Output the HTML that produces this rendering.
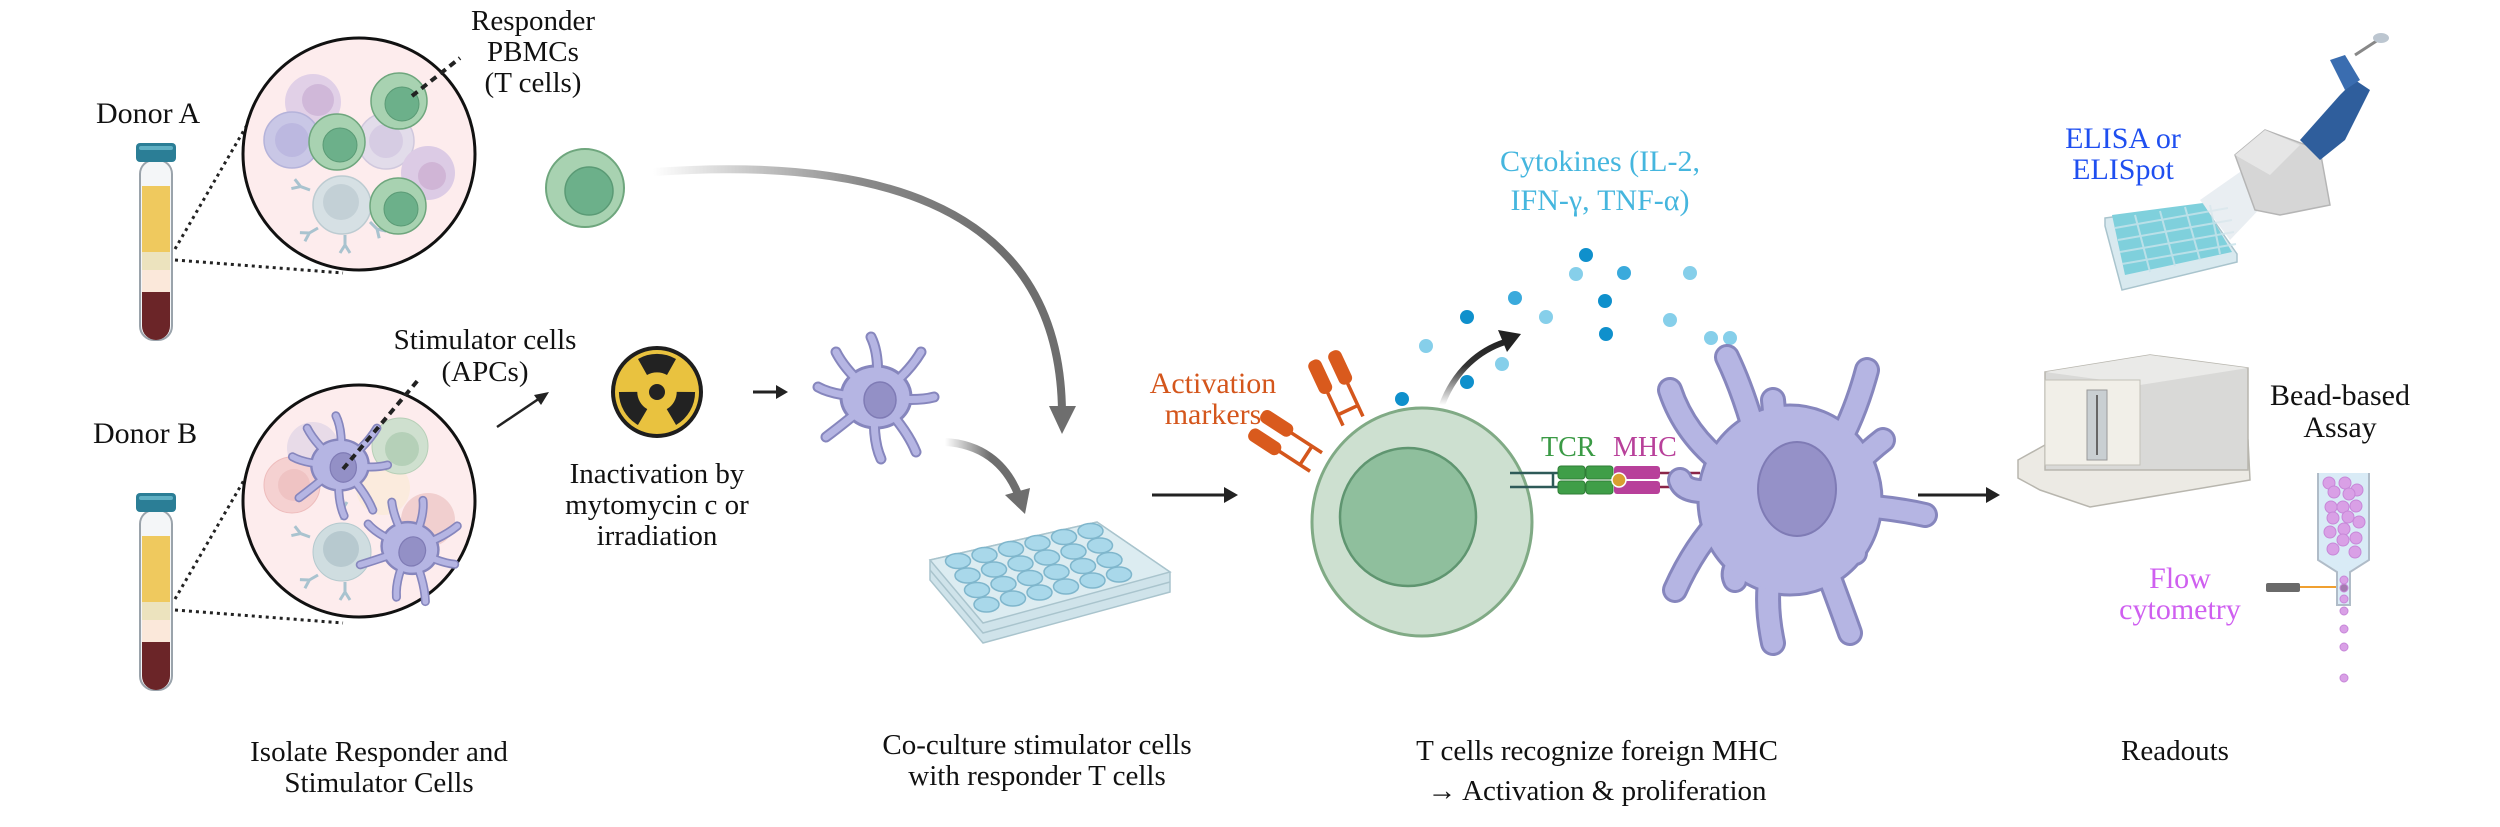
<!DOCTYPE html>
<html><head><meta charset="utf-8">
<style>
html,body{margin:0;padding:0;background:#fff;}
svg{display:block;font-family:"Liberation Serif","Times New Roman",serif;}
svg text{font-family:"Liberation Serif","Times New Roman",serif;}
</style></head>
<body>
<svg width="2500" height="827" viewBox="0 0 2500 827" xmlns="http://www.w3.org/2000/svg" font-family="Liberation Serif, Times New Roman, serif">
<defs>
  <linearGradient id="g1" x1="653" y1="0" x2="1000" y2="0" gradientUnits="userSpaceOnUse">
    <stop offset="0" stop-color="#fff"/><stop offset="0.6" stop-color="#8a8a8a"/><stop offset="1" stop-color="#6e6e6e"/>
  </linearGradient>
  <linearGradient id="g2" x1="945" y1="0" x2="990" y2="0" gradientUnits="userSpaceOnUse">
    <stop offset="0" stop-color="#fff"/><stop offset="1" stop-color="#6e6e6e"/>
  </linearGradient>
  <linearGradient id="g3" x1="0" y1="405" x2="0" y2="340" gradientUnits="userSpaceOnUse">
    <stop offset="0" stop-color="#fff"/><stop offset="0.6" stop-color="#333"/><stop offset="1" stop-color="#222"/>
  </linearGradient>
  <g id="dc">
    <g fill="none" stroke="#8686bd" stroke-linecap="round" stroke-width="11">
      <path d="M0,0 Q5,-40 -5,-60"/><path d="M0,0 Q30,-20 45,-45"/><path d="M0,0 Q40,5 58,0"/>
      <path d="M0,0 Q30,30 40,55"/><path d="M0,0 Q-5,40 5,62"/><path d="M0,0 Q-30,25 -50,40"/>
      <path d="M0,0 Q-40,0 -58,-10"/><path d="M0,0 Q-30,-25 -40,-45"/>
    </g>
    <ellipse cx="0" cy="0" rx="35" ry="31" fill="#b5b5e3" stroke="#8686bd" stroke-width="3"/>
    <g fill="none" stroke="#b5b5e3" stroke-linecap="round" stroke-width="7">
      <path d="M0,0 Q5,-40 -5,-60"/><path d="M0,0 Q30,-20 45,-45"/><path d="M0,0 Q40,5 58,0"/>
      <path d="M0,0 Q30,30 40,55"/><path d="M0,0 Q-5,40 5,62"/><path d="M0,0 Q-30,25 -50,40"/>
      <path d="M0,0 Q-40,0 -58,-10"/><path d="M0,0 Q-30,-25 -40,-45"/>
    </g>
    <ellipse cx="0" cy="0" rx="33" ry="29" fill="#b5b5e3"/>
    <ellipse cx="4" cy="3" rx="16" ry="18" fill="#9390c6" stroke="#7f7bb5" stroke-width="1.5"/>
  </g>
  <g id="tube">
    <rect x="140" y="160" width="32" height="180" rx="14" fill="#f4f6f8" stroke="#9aa3ab" stroke-width="2"/>
    <rect x="142" y="186" width="28" height="66" fill="#efc95e"/>
    <rect x="142" y="252" width="28" height="18" fill="#ece3be"/>
    <rect x="142" y="270" width="28" height="22" fill="#fbe8da"/>
    <path d="M142,292 H170 V326 A14,14 0 0 1 142,326 Z" fill="#6b2528"/>
    <rect x="136" y="143" width="40" height="19" rx="4" fill="#2b7e96"/>
    <rect x="139" y="146" width="34" height="4" rx="2" fill="#5fb0c4"/>
  </g>
  <g id="ab" fill="none" stroke="#a9c3cf" stroke-width="3">
    <path d="M0,0 V-10 M0,-10 L-5,-18 M0,-10 L5,-18"/>
  </g>
  <g id="mk">
    <g stroke="#d4561c" stroke-width="3.5" fill="none"><path d="M-11,-38 V0 M11,-38 V0 M-11,-12 H11"/></g>
    <rect x="-18" y="-72" width="14" height="36" rx="6" fill="#d95a1d"/>
    <rect x="4" y="-72" width="14" height="36" rx="6" fill="#d95a1d"/>
  </g>
</defs>

<g font-family="Liberation Serif, Times New Roman, serif">
<!-- Donor A -->
<text x="96" y="123" font-size="30" fill="#111">Donor A</text>
<use href="#tube"/>
<path d="M175,249 L247,125 M175,260 L343,273" stroke="#222" stroke-width="3" stroke-dasharray="3,4" fill="none"/>
<circle cx="359" cy="154" r="116" fill="#fdeced" stroke="#111" stroke-width="3"/>
<g>
  <circle cx="313" cy="102" r="28" fill="#dccbe5" opacity="0.85"/><circle cx="318" cy="100" r="16" fill="#d0b8d9"/>
  <circle cx="292" cy="140" r="28" fill="#c9c7e6" stroke="#b5b3da" stroke-width="1.5"/><circle cx="292" cy="140" r="17" fill="#bcb8e0"/>
  <circle cx="386" cy="141" r="28" fill="#e2dcea" stroke="#d0c8dd" stroke-width="1.5"/><circle cx="386" cy="141" r="17" fill="#d6cce3"/>
  <circle cx="428" cy="173" r="27" fill="#dccbe5"/><circle cx="432" cy="176" r="14" fill="#d0b5d6"/>
  <circle cx="342" cy="205" r="29" fill="#d6e0e4" stroke="#bccbd1" stroke-width="1.5"/><circle cx="341" cy="202" r="18" fill="#c3d0d6"/>
  <use href="#ab" transform="translate(310,190) rotate(-70)"/><use href="#ab" transform="translate(318,228) rotate(-120)"/>
  <use href="#ab" transform="translate(345,235) rotate(180)"/><use href="#ab" transform="translate(370,222) rotate(135)"/>
  <circle cx="337" cy="142" r="28" fill="#a8d2b1" stroke="#6ea67d" stroke-width="1.5"/><circle cx="340" cy="145" r="17" fill="#6cb08a" stroke="#5a9a75"/>
  <circle cx="399" cy="101" r="28" fill="#a8d2b1" stroke="#6ea67d" stroke-width="1.5"/><circle cx="402" cy="104" r="17" fill="#6cb08a" stroke="#5a9a75"/>
  <circle cx="398" cy="206" r="28" fill="#a8d2b1" stroke="#6ea67d" stroke-width="1.5"/><circle cx="401" cy="209" r="17" fill="#6cb08a" stroke="#5a9a75"/>
</g>
<path d="M412,96 L460,58" stroke="#222" stroke-width="4" stroke-dasharray="7,5"/>
<text font-size="29" fill="#111" text-anchor="middle"><tspan x="533" y="30">Responder</tspan><tspan x="533" y="61">PBMCs</tspan><tspan x="533" y="92">(T cells)</tspan></text>
<circle cx="585" cy="188" r="39" fill="#a8d2b1" stroke="#6ea67d" stroke-width="2"/><circle cx="589" cy="191" r="24" fill="#6cb08a" stroke="#5a9a75" stroke-width="1.5"/>

<!-- Donor B -->
<text x="93" y="443" font-size="30" fill="#111">Donor B</text>
<use href="#tube" transform="translate(0,350)"/>
<path d="M175,599 L247,475 M175,610 L343,623" stroke="#222" stroke-width="3" stroke-dasharray="3,4" fill="none"/>
<circle cx="359" cy="501" r="116" fill="#fdeced" stroke="#111" stroke-width="3"/>
<g>
  <circle cx="313" cy="448" r="26" fill="#e8dbe8"/>
  <circle cx="292" cy="485" r="28" fill="#f5d1d1" stroke="#eebcbc"/><circle cx="294" cy="485" r="16" fill="#efc3c3"/>
  <circle cx="383" cy="488" r="27" fill="#fbebdd"/>
  <circle cx="428" cy="520" r="27" fill="#f1cfcf"/>
  <circle cx="400" cy="446" r="28" fill="#cfe0cf" stroke="#b6cfb7"/><circle cx="402" cy="449" r="17" fill="#b5d0b8"/>
  <circle cx="342" cy="552" r="29" fill="#cfdde0" stroke="#b4c9ce"/><circle cx="341" cy="549" r="18" fill="#b7c9cf"/>
  <use href="#ab" transform="translate(310,537) rotate(-70)"/><use href="#ab" transform="translate(318,575) rotate(-120)"/>
  <use href="#ab" transform="translate(345,582) rotate(180)"/><use href="#ab" transform="translate(342,520) rotate(0)"/>
  <use href="#dc" transform="translate(340,465) scale(0.82)"/>
  <use href="#dc" transform="translate(410,548) scale(0.82) rotate(20)"/>
</g>
<path d="M343,469 L419,379" stroke="#222" stroke-width="4" stroke-dasharray="7,5"/>
<text font-size="29" fill="#111" text-anchor="middle"><tspan x="485" y="349">Stimulator cells</tspan><tspan x="485" y="381">(APCs)</tspan></text>
<path d="M497,427 L540,398" stroke="#222" stroke-width="2.5"/><path d="M549,392 L534,395 L541,405 Z" fill="#222"/>

<!-- radiation -->
<circle cx="657" cy="392" r="44" fill="#e9c23f" stroke="#1e1e1e" stroke-width="4"/>
<g fill="#222" transform="translate(657,392)">
  <path d="M-10,-17 L-19,-33 A38,38 0 0 1 19,-33 L10,-17 A20,20 0 0 0 -10,-17 Z"/>
  <path d="M-10,-17 L-19,-33 A38,38 0 0 1 19,-33 L10,-17 A20,20 0 0 0 -10,-17 Z" transform="rotate(120)"/>
  <path d="M-10,-17 L-19,-33 A38,38 0 0 1 19,-33 L10,-17 A20,20 0 0 0 -10,-17 Z" transform="rotate(240)"/>
  <circle r="8"/>
</g>
<text font-size="29" fill="#111" text-anchor="middle"><tspan x="657" y="483">Inactivation by</tspan><tspan x="657" y="514">mytomycin c or</tspan><tspan x="657" y="545">irradiation</tspan></text>
<path d="M753,392 H778" stroke="#222" stroke-width="3"/><path d="M788,392 L776,385 V399 Z" fill="#222"/>
<use href="#dc" transform="translate(876,397)"/>

<!-- grey arrows -->
<path d="M653,172 C850,158 1060,190 1062,412" fill="none" stroke="url(#g1)" stroke-width="8"/>
<path d="M1049,406 L1076,406 L1062,434 Z" fill="#6e6e6e"/>
<path d="M945,442 C980,444 1005,462 1018,494" fill="none" stroke="url(#g2)" stroke-width="8"/>
<path d="M1005,495 L1030,488 L1025,514 Z" fill="#6e6e6e"/>

<!-- plate -->
<path d="M930,560 L1097,522 L1170,572 L1170,592 L983,643 L930,580 Z" fill="#cfe3ea" stroke="#a9c4cd" stroke-width="1.5"/>
<path d="M930,560 L1097,522 L1170,572 L983,623 Z" fill="#dcecf1" stroke="#a9c4cd" stroke-width="1.5"/>
<path d="M930,570 L983,633 L1170,582" fill="none" stroke="#a9c4cd" stroke-width="1.5"/>
<g fill="#a9d8ea" stroke="#7fb6cc" stroke-width="1.5">
<ellipse cx="958" cy="561" rx="12.5" ry="7.5"/><ellipse cx="984.5" cy="555" rx="12.5" ry="7.5"/><ellipse cx="1011" cy="549" rx="12.5" ry="7.5"/><ellipse cx="1037.5" cy="543" rx="12.5" ry="7.5"/><ellipse cx="1064" cy="537" rx="12.5" ry="7.5"/><ellipse cx="1090.5" cy="531" rx="12.5" ry="7.5"/>
<ellipse cx="967.5" cy="575.5" rx="12.5" ry="7.5"/><ellipse cx="994" cy="569.5" rx="12.5" ry="7.5"/><ellipse cx="1020.5" cy="563.5" rx="12.5" ry="7.5"/><ellipse cx="1047" cy="557.5" rx="12.5" ry="7.5"/><ellipse cx="1073.5" cy="551.5" rx="12.5" ry="7.5"/><ellipse cx="1100" cy="545.5" rx="12.5" ry="7.5"/>
<ellipse cx="977" cy="590" rx="12.5" ry="7.5"/><ellipse cx="1003.5" cy="584" rx="12.5" ry="7.5"/><ellipse cx="1030" cy="578" rx="12.5" ry="7.5"/><ellipse cx="1056.5" cy="572" rx="12.5" ry="7.5"/><ellipse cx="1083" cy="566" rx="12.5" ry="7.5"/><ellipse cx="1109.5" cy="560" rx="12.5" ry="7.5"/>
<ellipse cx="986.5" cy="604.5" rx="12.5" ry="7.5"/><ellipse cx="1013" cy="598.5" rx="12.5" ry="7.5"/><ellipse cx="1039.5" cy="592.5" rx="12.5" ry="7.5"/><ellipse cx="1066" cy="586.5" rx="12.5" ry="7.5"/><ellipse cx="1092.5" cy="580.5" rx="12.5" ry="7.5"/><ellipse cx="1119" cy="574.5" rx="12.5" ry="7.5"/>
</g>

<path d="M1152,495 H1226" stroke="#222" stroke-width="3"/><path d="M1238,495 L1224,487 V503 Z" fill="#222"/>

<!-- Activation -->
<text font-size="30" fill="#d4561c" text-anchor="middle"><tspan x="1213" y="393">Activation</tspan><tspan x="1213" y="424">markers</tspan></text>
<use href="#mk" transform="translate(1353,421) rotate(-25)"/>
<use href="#mk" transform="translate(1316,462) rotate(-57)"/>

<!-- cytokines -->
<text font-size="30" fill="#45b6de" text-anchor="middle"><tspan x="1600" y="171">Cytokines (IL-2,</tspan><tspan x="1600" y="210">IFN-γ, TNF-α)</tspan></text>
<g fill="#0f90cc"><circle cx="1402" cy="399" r="7"/><circle cx="1467" cy="317" r="7"/><circle cx="1467" cy="382" r="7"/><circle cx="1586" cy="255" r="7"/><circle cx="1606" cy="334" r="7"/><circle cx="1624" cy="273" r="7" fill="#3aaadc"/><circle cx="1515" cy="298" r="7" fill="#3aaadc"/><circle cx="1605" cy="301" r="7"/></g>
<g fill="#86cfea"><circle cx="1426" cy="346" r="7"/><circle cx="1502" cy="364" r="7"/><circle cx="1546" cy="317" r="7"/><circle cx="1576" cy="274" r="7"/><circle cx="1690" cy="273" r="7"/><circle cx="1670" cy="320" r="7"/><circle cx="1711" cy="338" r="7"/><circle cx="1730" cy="338" r="7"/></g>

<!-- T cell -->
<ellipse cx="1422" cy="522" rx="110" ry="114" fill="#cde0d0" stroke="#80aa85" stroke-width="3"/>
<ellipse cx="1408" cy="517" rx="68" ry="69" fill="#8fbf9d" stroke="#5f9570" stroke-width="2.5"/>
<path d="M1442,405 C1455,370 1480,350 1505,342" fill="none" stroke="url(#g3)" stroke-width="6"/>
<path d="M1521,334 L1498,330 L1507,352 Z" fill="#222"/>

<!-- TCR MHC -->
<text x="1541" y="456" font-size="28" fill="#3a9a45">TCR</text>
<text x="1613" y="456" font-size="28" fill="#b8409a">MHC</text>
<path d="M1510,473 H1558 M1510,487 H1558 M1553,473 V487" stroke="#2e5a58" stroke-width="2.5" fill="none"/>
<g fill="#3f9e48" stroke="#2f7e36" stroke-width="1"><rect x="1558" y="466" width="27" height="13" rx="3"/><rect x="1586" y="466" width="27" height="13" rx="3"/><rect x="1558" y="481" width="27" height="13" rx="3"/><rect x="1586" y="481" width="27" height="13" rx="3"/></g>
<g fill="#b8409a"><rect x="1614" y="466" width="46" height="13" rx="3"/><rect x="1614" y="481" width="46" height="13" rx="3"/></g>
<circle cx="1619" cy="480" r="7" fill="#d8a030" stroke="#fff" stroke-width="1.5"/>
<path d="M1660,473 H1700 M1660,487 H1700" stroke="#8a2548" stroke-width="2.5"/>

<!-- big DC -->
<g transform="translate(1795,495)">
  <g fill="none" stroke="#8686bd" stroke-linecap="round" stroke-width="26">
    <path d="M-30,-20 Q-45,-90 -68,-138"/><path d="M-15,-40 Q-20,-70 -22,-95"/><path d="M40,-45 Q60,-80 72,-125"/>
    <path d="M60,-30 Q75,-45 88,-55"/><path d="M50,10 Q95,12 130,20"/><path d="M45,50 Q55,60 60,58"/>
    <path d="M30,70 Q45,110 55,138"/><path d="M-25,80 Q-30,110 -22,148"/><path d="M-50,60 Q-65,75 -60,85"/>
    <path d="M-70,20 Q-100,50 -120,95"/><path d="M-75,-5 Q-110,0 -115,-15"/><path d="M-70,-30 Q-110,-60 -125,-105"/>
  </g>
  <ellipse cx="-5" cy="5" rx="92" ry="95" fill="#b5b5e3" stroke="#8686bd" stroke-width="3"/>
  <g fill="none" stroke="#b5b5e3" stroke-linecap="round" stroke-width="20">
    <path d="M-30,-20 Q-45,-90 -68,-138"/><path d="M-15,-40 Q-20,-70 -22,-95"/><path d="M40,-45 Q60,-80 72,-125"/>
    <path d="M60,-30 Q75,-45 88,-55"/><path d="M50,10 Q95,12 130,20"/><path d="M45,50 Q55,60 60,58"/>
    <path d="M30,70 Q45,110 55,138"/><path d="M-25,80 Q-30,110 -22,148"/><path d="M-50,60 Q-65,75 -60,85"/>
    <path d="M-70,20 Q-100,50 -120,95"/><path d="M-75,-5 Q-110,0 -115,-15"/><path d="M-70,-30 Q-110,-60 -125,-105"/>
  </g>
  <ellipse cx="-5" cy="5" rx="89" ry="92" fill="#b5b5e3"/>
  <ellipse cx="2" cy="-6" rx="39" ry="47" fill="#9591c8" stroke="#7f7bb5" stroke-width="2"/>
</g>

<path d="M1918,495 H1988" stroke="#222" stroke-width="3"/><path d="M2000,495 L1986,487 V503 Z" fill="#222"/>

<!-- ELISA -->
<text font-size="30" fill="#1f4ff0" text-anchor="middle"><tspan x="2123" y="148">ELISA or</tspan><tspan x="2123" y="179">ELISpot</tspan></text>
<path d="M2105,218 L2203,205 L2237,254 L2237,262 L2122,290 L2105,226 Z" fill="#d8e9ef" stroke="#a9c4cd" stroke-width="1.5"/>
<path d="M2112,215 L2203,203 L2232,252 L2125,275 Z" fill="#7fd0dc"/>
<g stroke="#c9e4ec" stroke-width="2" opacity="0.8"><path d="M2115,228 L2228,208 M2118,240 L2232,220 M2120,252 L2234,232 M2122,264 L2236,244 M2135,215 L2150,272 M2160,211 L2175,266 M2185,207 L2200,260 M2210,205 L2220,254"/></g>
<path d="M2200,200 L2240,172 L2268,200 L2230,240 Z" fill="#dfe7ec" opacity="0.7"/>
<path d="M2235,155 L2265,130 L2320,150 L2330,205 L2280,215 L2255,210 Z" fill="#d6d6d6" stroke="#b5b5b5" stroke-width="1.5"/>
<path d="M2235,155 L2265,130 L2300,145 L2270,175 Z" fill="#e6e6e6"/>
<path d="M2300,140 L2340,95 L2355,80 L2370,90 L2345,140 L2320,160 Z" fill="#2f5e9c"/>
<path d="M2330,60 L2345,55 L2360,80 L2345,90 Z" fill="#3a6db0"/>
<path d="M2355,55 L2378,40" stroke="#888" stroke-width="3"/><ellipse cx="2381" cy="38" rx="8" ry="5" fill="#bcc6d0"/>

<!-- Bead-based machine -->
<path d="M2018,460 L2045,445 L2248,440 L2250,480 L2090,507 L2040,490 L2018,478 Z" fill="#eceae4" stroke="#b8b6ae" stroke-width="1.5"/>
<path d="M2045,372 L2150,355 L2248,368 L2248,470 L2045,470 Z" fill="#d9d9d7" stroke="#b8b6ae" stroke-width="1.5"/>
<path d="M2045,372 L2150,355 L2248,368 L2140,385 Z" fill="#eaeae8"/>
<rect x="2045" y="380" width="95" height="85" fill="#f1efe8" stroke="#c3c1b8"/>
<rect x="2087" y="390" width="20" height="70" fill="#c9cfd2" stroke="#999"/>
<path d="M2097,395 V455" stroke="#666" stroke-width="2"/>
<text font-size="30" fill="#111" text-anchor="middle"><tspan x="2340" y="405">Bead-based</tspan><tspan x="2340" y="437">Assay</tspan></text>

<!-- Flow -->
<text font-size="30" fill="#cf5ff0" text-anchor="middle"><tspan x="2180" y="588">Flow</tspan><tspan x="2180" y="619">cytometry</tspan></text>
<path d="M2318,473 V560 L2337,572 V605 H2350 V572 L2369,560 V473" fill="#d9ebf6" stroke="#b0bcc8" stroke-width="2"/>
<g fill="#d9a0e6" stroke="#c787d8"><circle cx="2329" cy="483" r="6"/><circle cx="2345" cy="483" r="6"/><circle cx="2357" cy="490" r="6"/><circle cx="2334" cy="492" r="6"/><circle cx="2349" cy="494" r="6"/><circle cx="2331" cy="507" r="6"/><circle cx="2343" cy="507" r="6"/><circle cx="2356" cy="506" r="6"/><circle cx="2333" cy="518" r="6"/><circle cx="2348" cy="517" r="6"/><circle cx="2359" cy="522" r="6"/><circle cx="2330" cy="532" r="6"/><circle cx="2344" cy="529" r="6"/><circle cx="2356" cy="538" r="6"/><circle cx="2343" cy="540" r="6"/><circle cx="2333" cy="549" r="6"/><circle cx="2355" cy="552" r="6"/><circle cx="2344" cy="580" r="4"/><circle cx="2344" cy="588" r="4" fill="#a47cb0"/><circle cx="2344" cy="599" r="4"/><circle cx="2344" cy="611" r="4"/><circle cx="2344" cy="629" r="4"/><circle cx="2344" cy="647" r="4"/><circle cx="2344" cy="678" r="4"/></g>
<rect x="2266" y="583" width="34" height="9" rx="2" fill="#6a6a6a"/>
<path d="M2300,587 H2336" stroke="#f0a030" stroke-width="2"/>

<!-- captions -->
<g font-size="29" fill="#111" text-anchor="middle">
<text x="379" y="761">Isolate Responder and</text><text x="379" y="792">Stimulator Cells</text>
<text x="1037" y="754">Co-culture stimulator cells</text><text x="1037" y="785">with responder T cells</text>
<text x="1597" y="760">T cells recognize foreign MHC</text><text x="1597" y="800">→ Activation &amp; proliferation</text>
<text x="2175" y="760">Readouts</text>
</g>
</g>
</svg>
</body></html>
